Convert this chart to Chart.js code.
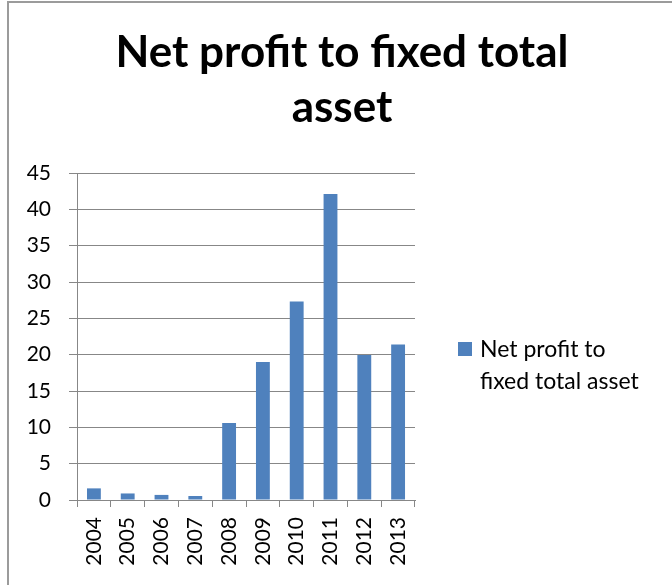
<!DOCTYPE html>
<html>
<head>
<meta charset="utf-8">
<title>Net profit to fixed total asset</title>
<script src="https://cdn.jsdelivr.net/npm/chart.js"></script>
<style>
  html, body { margin: 0; padding: 0; background: #fff; }
  #wrap { position: relative; width: 672px; height: 585px; overflow: hidden; }
  #frame { position: absolute; left: 7px; top: 1px; right: -4px; bottom: -4px;
           border-top: 2px solid #9b9b9b; border-left: 2px solid #9b9b9b; pointer-events: none; }
</style>
</head>
<body>
<div id="wrap">
  <canvas id="profitChart" width="672" height="585"></canvas>
  <div id="frame"></div>
</div>

<script>
  // data
  const years = ['2004', '2005', '2006', '2007', '2008', '2009', '2010', '2011', '2012', '2013'];
  const ratios = [1.6, 0.9, 0.7, 0.55, 10.6, 19.0, 27.3, 42.1, 19.95, 21.4];
  const yMin = 0, yMax = 45, yStep = 5;
  const titleLines = ['Net profit to fixed total', 'asset'];
  const seriesName = 'Net profit to fixed total asset';

  const barBlue = '#4f81bd';
  const gridGrey = '#878787';

  function wrapText(ctx, text, maxWidth) {
    const words = text.split(' ');
    const lines = [];
    let line = '';
    words.forEach(w => {
      const test = line ? line + ' ' + w : w;
      if (ctx.measureText(test).width > maxWidth && line) {
        lines.push(line);
        line = w;
      } else {
        line = test;
      }
    });
    if (line) lines.push(line);
    return lines;
  }

  // title + legend drawn like the Excel chart (title centred on the whole frame, legend wraps)
  const excelText = {
    id: 'excelText',
    afterDraw(chart) {
      const ctx = chart.ctx;
      const area = chart.chartArea;
      ctx.save();
      ctx.fillStyle = '#000';
      ctx.textAlign = 'center';
      ctx.textBaseline = 'alphabetic';
      ctx.font = 'bold 44px Lato';
      titleLines.forEach((t, i) => ctx.fillText(t, 342, 67 + i * 55));

      const ds = chart.data.datasets[0];
      ctx.font = '23px Lato';
      const lines = wrapText(ctx, ds.label, 170);
      const lx = area.right + 43;
      const ly = 342;
      ctx.fillStyle = ds.backgroundColor;
      ctx.fillRect(lx, ly, 14, 14);
      ctx.fillStyle = '#000';
      ctx.textAlign = 'left';
      lines.forEach((t, i) => ctx.fillText(t, lx + 22, ly + 15 + i * 32));
      ctx.restore();
    }
  };

  new Chart(document.getElementById('profitChart'), {
    type: 'bar',
    data: {
      labels: years,
      datasets: [{
        label: seriesName,
        data: ratios,
        backgroundColor: barBlue,
        borderWidth: 0,
        barPercentage: 0.41,
        categoryPercentage: 1.0
      }]
    },
    options: {
      responsive: false,
      animation: false,
      devicePixelRatio: 1,
      layout: { padding: { top: 173, right: 257, bottom: 0, left: 0 } },
      plugins: {
        legend: { display: false },
        title: { display: false },
        tooltip: { enabled: false }
      },
      scales: {
        x: {
          afterFit: s => { s.height = 85; },
          grid: { drawOnChartArea: false, offset: true, tickLength: 7, color: gridGrey, lineWidth: 1 },
          border: { color: gridGrey, width: 1 },
          ticks: {
            minRotation: 90, maxRotation: 90, padding: 10,
            color: '#000', font: { family: 'Lato', size: 21 }
          }
        },
        y: {
          min: yMin, max: yMax,
          afterFit: s => { s.width = 77; },
          grid: { color: gridGrey, lineWidth: 1, tickLength: 8 },
          border: { color: gridGrey, width: 1 },
          ticks: {
            stepSize: yStep, padding: 18,
            color: '#000', font: { family: 'Lato', size: 21 }
          }
        }
      }
    },
    plugins: [excelText]
  });
</script>
</body>
</html>
